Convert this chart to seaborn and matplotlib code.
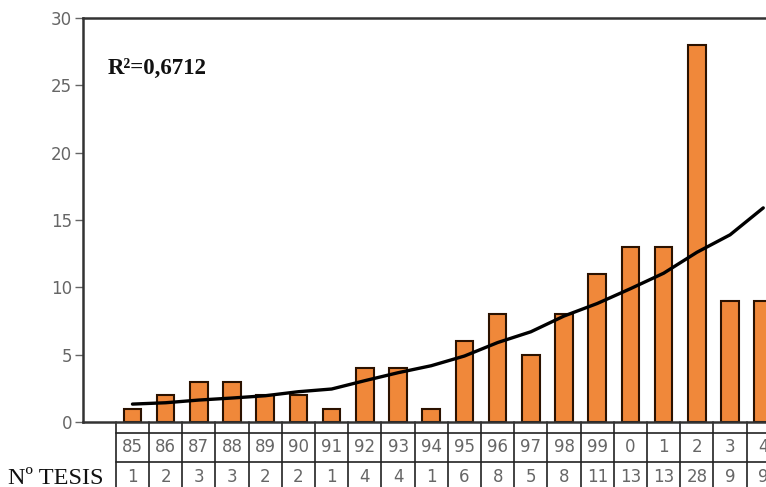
import numpy as np
import pandas as pd
import matplotlib
matplotlib.use('Agg')
import matplotlib.pyplot as plt
import seaborn as sns

years = ['85', '86', '87', '88', '89', '90', '91', '92', '93', '94',
         '95', '96', '97', '98', '99', '0', '1', '2', '3', '4']
tesis = [1, 2, 3, 3, 2, 2, 1, 4, 4, 1, 6, 8, 5, 8, 11, 13, 13, 28, 9, 9]
trend = [1.33, 1.43, 1.63, 1.78, 1.95, 2.25, 2.45, 3.07, 3.66, 4.18,
         4.9, 5.9, 6.7, 7.87, 8.8, 9.9, 11.05, 12.6, 13.9, 15.9]
r2_label = 'R²=0,6712'

bar_color = '#F0883A'
edge_color = '#2b1200'
grey = '#666666'


def make_plot():
    sns.set_style('white')
    plt.rcParams['font.family'] = ['DejaVu Sans']
    fig = plt.figure(figsize=(7.66, 4.87), dpi=100)
    ax = fig.add_axes([83 / 766, 65 / 487, 700 / 766, 404 / 487])

    df = pd.DataFrame({'year': years, 'tesis': tesis})
    sns.barplot(data=df, x='year', y='tesis', color=bar_color, saturation=1,
                edgecolor=edge_color, linewidth=1.5, width=0.53, ax=ax)
    sns.lineplot(x=np.arange(len(trend)), y=trend, color='black',
                 linewidth=2.4, ax=ax)

    ax.set_xlim(-1.49, -1.49 + 700 / 33.2)
    ax.set_ylim(0, 30)
    ax.set_yticks(range(0, 31, 5))
    ax.set_xticks([])
    ax.set_xlabel('')
    ax.set_ylabel('')
    ax.tick_params(axis='y', left=True, length=6, width=1, color=grey,
                   labelcolor=grey, labelsize=12, pad=2)
    for side in ['left', 'top', 'bottom']:
        ax.spines[side].set_color('#333333')
        ax.spines[side].set_linewidth(1.8)
    ax.spines['right'].set_visible(False)

    # data table under the axis
    tr = ax.get_xaxis_transform()
    n = len(years)
    for i in range(n + 1):
        ax.plot([i - 0.5, i - 0.5], [0, -0.2], transform=tr, color='#222222',
                linewidth=1.2, clip_on=False)
    for yy in [-0.027, -0.099]:
        ax.plot([-0.5, n + 1], [yy, yy], transform=tr, color='#222222',
                linewidth=1.2, clip_on=False)
    for i in range(n):
        ax.text(i, -0.062, years[i], transform=tr, ha='center', va='center',
                fontsize=12, color=grey)
        ax.text(i, -0.136, str(tesis[i]), transform=tr, ha='center',
                va='center', fontsize=12, color=grey)

    fig.text(8 / 766, 1 - 478 / 487, 'Nº TESIS', ha='left', va='center',
             fontsize=17.5, family='Liberation Serif', color='#111111')
    fig.text(108 / 766, 1 - 68 / 487, r2_label, ha='left', va='center',
             fontsize=16.5, family='Liberation Serif', fontweight='bold',
             color='#111111')
    return fig


def save_plot_as(filename):
    fig = make_plot()
    fig.savefig(filename, dpi=100)
    plt.close()


if __name__ == '__main__':
    save_plot_as('out.png')
